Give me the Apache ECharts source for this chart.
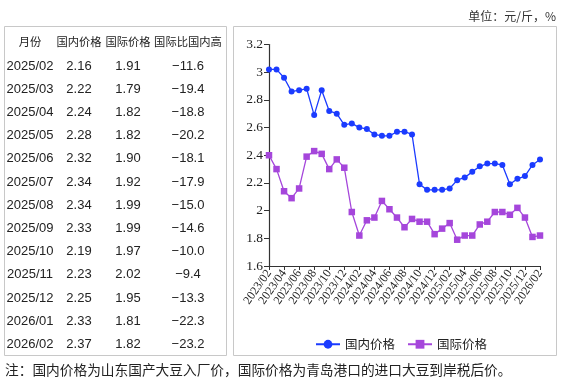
<!DOCTYPE html>
<html><head><meta charset="utf-8">
<script src="https://cdn.jsdelivr.net/npm/echarts@6/dist/echarts.min.js"></script>
<style>html,body{margin:0;padding:0;background:#fff}#c{width:564px;height:385px}</style>
</head><body><div id="c"></div>
<script>
// ---- chart data ----
const months = [];
for (let y = 2023; y <= 2026; y++) for (let m = 1; m <= 12; m++) {
  const k = y * 100 + m; if (k >= 202302 && k <= 202602) months.push(y + '/' + String(m).padStart(2, '0'));
}
const domesticEarly = [3.02,3.02,2.96,2.86,2.87,2.88,2.69,2.87,2.72,2.70,2.62,2.63,2.60,2.59,2.55,2.54,2.54,2.57,2.57,2.55,2.19,2.15,2.15,2.15];
const intlEarly     = [2.40,2.30,2.14,2.09,2.16,2.39,2.43,2.41,2.30,2.37,2.31,1.99,1.82,1.93,1.95,2.07,2.01,1.95,1.88,1.94,1.92,1.92,1.83,1.87];
// ---- table data ----
const tableMonths   = ['2025/02','2025/03','2025/04','2025/05','2025/06','2025/07','2025/08','2025/09','2025/10','2025/11','2025/12','2026/01','2026/02'];
const tableDomestic = ['2.16','2.22','2.24','2.28','2.32','2.34','2.34','2.33','2.19','2.23','2.25','2.33','2.37'];
const tableIntl     = ['1.91','1.79','1.82','1.82','1.90','1.92','1.99','1.99','1.97','2.02','1.95','1.81','1.82'];
const tableDiff     = ['−11.6','−19.4','−18.8','−20.2','−18.1','−17.9','−15.0','−14.6','−10.0','−9.4','−13.3','−22.3','−23.2'];
const tableHeader   = ['月份','国内价格','国际价格','国际比国内高'];
const seriesNames   = ['国内价格','国际价格'];
const unitText = '单位：元/斤，%';
const noteText = '注：国内价格为山东国产大豆入厂价，国际价格为青岛港口的进口大豆到岸税后价。';

const domestic = domesticEarly.concat(tableDomestic.map(Number));
const intl = intlEarly.concat(tableIntl.map(Number));

const colX = [30, 79, 128, 188];
const cjk = '"Noto Sans CJK SC", sans-serif';
const num = '"Liberation Sans", Arial, sans-serif';
const g = [];
g.push({type:'rect', shape:{x:4.5,y:26.5,width:222,height:329}, style:{fill:'none', stroke:'#c8c8c8', lineWidth:1}});
g.push({type:'rect', shape:{x:233.5,y:26.5,width:323,height:329}, style:{fill:'none', stroke:'#c8c8c8', lineWidth:1}});
tableHeader.forEach((h,i)=>g.push({type:'text', x:colX[i], y:42, style:{text:h, font:'11.3px '+cjk, fill:'#222', textAlign:'center', textVerticalAlign:'middle'}}));
const cols = [tableMonths, tableDomestic, tableIntl, tableDiff];
tableMonths.forEach((_, r) => {
  cols.forEach((col, i) => g.push({type:'text', x:colX[i], y:66 + r*23.2, style:{text:col[r], font:'13px '+num, fill:'#222', textAlign:'center', textVerticalAlign:'middle'}}));
});
g.push({type:'text', x:556, y:16, style:{text:unitText, font:'12px '+cjk, fill:'#333', textAlign:'right', textVerticalAlign:'middle'}});
g.push({type:'text', x:5, y:370, style:{text:noteText, font:'13.7px '+cjk, fill:'#222', textAlign:'left', textVerticalAlign:'middle'}});

const chart = echarts.init(document.getElementById('c'), null, {renderer:'canvas'});
chart.setOption({
  animation:false,
  backgroundColor:'#fff',
  grid:{left:269, right:24, top:44.5, bottom:119},
  legend:{
    data:seriesNames, left:310, top:333, itemWidth:24, itemHeight:11, itemGap:12,
    textStyle:{fontFamily:cjk, fontSize:12.5, color:'#222'}
  },
  xAxis:{
    type:'category', data:months, boundaryGap:false,
    axisLine:{lineStyle:{color:'#333', width:1.2}},
    axisTick:{interval:1, length:4, lineStyle:{color:'#333'}},
    axisLabel:{interval:1, rotate:55, fontFamily:'"Liberation Serif", serif', fontSize:12, color:'#222', margin:5}
  },
  yAxis:{
    type:'value', min:1.6, max:3.2, interval:0.2,
    axisLine:{show:true, lineStyle:{color:'#333', width:1.2}},
    axisTick:{show:true, length:5, lineStyle:{color:'#333'}},
    splitLine:{show:false},
    axisLabel:{fontFamily:'"Liberation Serif", serif', fontSize:13.5, color:'#222', margin:6}
  },
  series:[
    {name:seriesNames[0], type:'line', data:domestic, symbol:'circle', symbolSize:6, showAllSymbol:true,
     itemStyle:{color:'#1b3bff'}, lineStyle:{color:'#1b3bff', width:1.3}},
    {name:seriesNames[1], type:'line', data:intl, symbol:'rect', symbolSize:6.5, showAllSymbol:true,
     itemStyle:{color:'#a546db'}, lineStyle:{color:'#a546db', width:1.3}}
  ],
  graphic:g
});
</script></body></html>
